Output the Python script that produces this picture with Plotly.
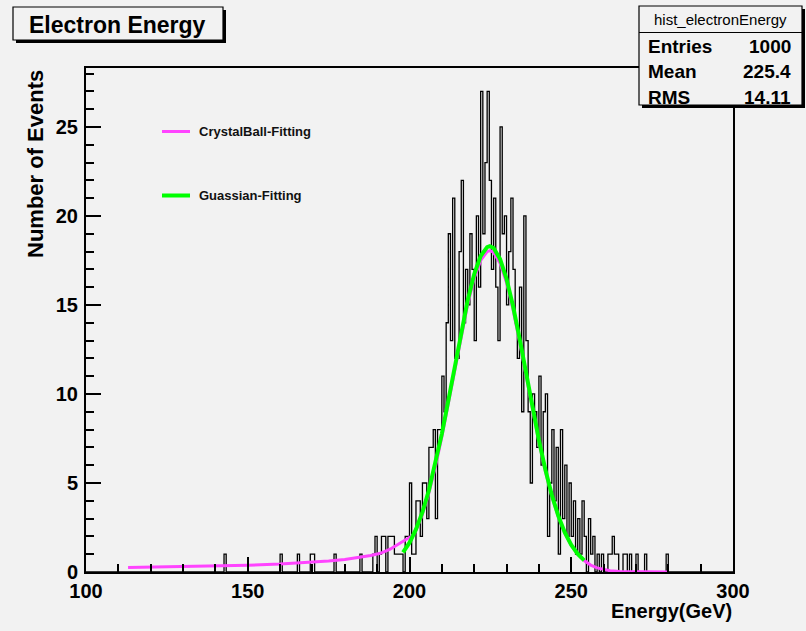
import plotly.graph_objects as go

# ---- histogram: 300 bins of 2/3 GeV between 100 and 300 GeV ----
n_bins = 300
e_min, e_max = 100.0, 300.0

# sparse entries in the low-energy tail (bin index, count)
tail_bins = [64, 90, 98, 104, 105, 115, 127, 133, 134]
tail_counts = [1, 1, 1, 1, 1, 1, 1, 1, 2]

# contiguous counts starting at bin 135 (190 GeV)
core_start = 135
core_counts = [
    0, 1, 2, 2, 0, 2, 2, 2, 1, 1, 1, 1, 0, 2, 2,          # 190-200
    5, 1, 1, 4, 4, 2, 5, 5, 3, 7, 7, 8, 3, 8, 8,          # 200-210
    11, 9, 14, 19, 13, 21, 12, 12,                        # 210-215
    18, 22, 14, 17, 15, 19, 17,                           # 215-220
    13, 20, 16, 27, 19, 23, 27, 22,                       # 220-225
    17, 21, 16, 13, 25, 19, 20,                           # 225-230
    15, 18, 21, 17, 14, 12, 16, 9,                        # 230-235
    20, 13, 9, 5, 10, 9, 7,                               # 235-240
    11, 6, 9, 10, 2, 5, 8, 4,                             # 240-245
    7, 1, 8, 3, 6, 2, 5,                                  # 245-250
    2, 4, 1, 3, 1, 4, 2, 0,                               # 250-255
    3, 1, 2, 0, 1, 0, 1,                                  # 255-260
    0, 0, 1, 1, 2, 1, 1, 0,                               # 260-265
    0, 1, 1, 0, 1, 0, 0,                                  # 265-270
    1, 0, 0, 0, 1, 0, 0, 0, 0, 0, 0, 0, 0, 0, 1,          # 270-280
]

# ---- fitted curves (sampled) ----
cb_energy = [113, 120, 130, 140, 150, 160, 165, 170, 175, 180, 185, 188, 191,
             194, 196, 198.5, 201, 202, 204, 206, 208, 210, 212, 214, 216,
             218, 220, 222, 224, 225, 226, 228, 230, 232, 234, 236, 238, 240,
             242, 244, 246, 248, 250, 252, 254, 256, 258, 260, 262, 265, 270,
             275, 280]
cb_value = [0.25, 0.27, 0.31, 0.34, 0.38, 0.45, 0.50, 0.56, 0.62, 0.70, 0.82,
            0.93, 1.05, 1.28, 1.50, 1.76, 2.05, 2.33, 3.25, 4.45, 5.90, 7.60,
            9.45, 11.40, 13.30, 15.05, 16.50, 17.50, 18.00, 18.05, 17.95,
            17.35, 16.25, 14.75, 12.95, 11.05, 9.10, 7.30, 5.65, 4.25, 3.10,
            2.18, 1.50, 1.00, 0.64, 0.39, 0.23, 0.13, 0.07, 0.03, 0.01, 0.0,
            0.0]

gaus_energy = [198, 200, 202, 204, 206, 208, 210, 212, 214, 216, 218, 220, 222,
               224, 224.8, 226, 228, 230, 232, 234, 236, 238, 240, 242, 244,
               246, 248, 250, 252, 254]
gaus_value = [1.10, 1.65, 2.39, 3.36, 4.59, 6.06, 7.76, 9.63, 11.59, 13.51,
              15.27, 16.72, 17.75, 18.25, 18.30, 18.20, 17.58, 16.46, 14.94,
              13.14, 11.20, 9.25, 7.41, 5.75, 4.32, 3.15, 2.22, 1.52, 1.01,
              0.65]

x_ticks = [100, 150, 200, 250, 300]
y_ticks = [0, 5, 10, 15, 20, 25]

stats_rows = [("Entries", "1000"), ("Mean", "225.4"), ("RMS", "14.11")]

# ---- assemble bin contents ----
counts = [0] * n_bins
for b, c in zip(tail_bins, tail_counts):
    counts[b] = c
for i, c in enumerate(core_counts):
    counts[core_start + i] = c
width = (e_max - e_min) / n_bins
edges = [e_min + i * width for i in range(n_bins + 1)]

# ---- page geometry (pixels) ----
W, H = 806, 631
L, R, T, B = 86, 733, 68, 572


def xp(px):
    return (px - L) / (R - L)


def yp(py):
    return (B - py) / (B - T)


FONT = "Liberation Sans"
BG = "#f2f2f2"

fig = go.Figure()
fig.add_trace(go.Scatter(
    x=edges, y=counts + [counts[-1]], mode="lines",
    line=dict(color="black", width=1.3, shape="hv"), hoverinfo="skip"))
fig.add_trace(go.Scatter(
    x=cb_energy, y=cb_value, mode="lines",
    line=dict(color="#ff44ff", width=3), hoverinfo="skip"))
fig.add_trace(go.Scatter(
    x=gaus_energy, y=gaus_value, mode="lines",
    line=dict(color="#00ff00", width=4), hoverinfo="skip"))

axis_common = dict(
    ticks="inside", ticklen=15, tickwidth=1.5, tickcolor="black",
    showline=True, linecolor="black", linewidth=2, mirror=True,
    showgrid=False, zeroline=False,
    tickfont=dict(family=FONT, size=20, color="black", weight="bold"),
)

fig.update_layout(
    width=W, height=H,
    margin=dict(l=L, r=W - R, t=T, b=H - B, pad=0),
    paper_bgcolor=BG, plot_bgcolor=BG,
    showlegend=False,
    xaxis=dict(range=[e_min, e_max], tickmode="array", tickvals=x_ticks,
               minor=dict(dtick=10, tick0=100, ticks="inside", ticklen=8,
                          tickwidth=1.5, tickcolor="black", showgrid=False),
               ticklabelstandoff=0, **axis_common),
    yaxis=dict(range=[0, 28.31], tickmode="array", tickvals=y_ticks,
               minor=dict(dtick=1, tick0=0, ticks="inside", ticklen=8,
                          tickwidth=1.5, tickcolor="black", showgrid=False),
               ticklabelstandoff=2, **axis_common),
)

shapes = []
annotations = []

# title box with shadow
shapes.append(dict(type="rect", xref="paper", yref="paper",
                   x0=xp(16), x1=xp(226), y0=yp(43), y1=yp(10),
                   fillcolor="black", line=dict(width=0)))
shapes.append(dict(type="rect", xref="paper", yref="paper",
                   x0=xp(13), x1=xp(223), y0=yp(40), y1=yp(7),
                   fillcolor=BG, line=dict(color="black", width=1.2)))
annotations.append(dict(xref="paper", yref="paper", x=xp(117), y=yp(24.5),
                        text="Electron Energy", showarrow=False,
                        xanchor="center", yanchor="middle",
                        font=dict(family=FONT, size=23, color="black",
                                  weight="bold")))

# statistics box with shadow
shapes.append(dict(type="rect", xref="paper", yref="paper",
                   x0=xp(642), x1=xp(805), y0=yp(108), y1=yp(9),
                   fillcolor="black", line=dict(width=0)))
shapes.append(dict(type="rect", xref="paper", yref="paper",
                   x0=xp(639), x1=xp(802), y0=yp(105), y1=yp(6),
                   fillcolor=BG, line=dict(color="black", width=1.2)))
shapes.append(dict(type="line", xref="paper", yref="paper",
                   x0=xp(639), x1=xp(802), y0=yp(32.5), y1=yp(32.5),
                   line=dict(color="black", width=1.2)))
annotations.append(dict(xref="paper", yref="paper", x=xp(720), y=yp(19.5),
                        text="hist_electronEnergy", showarrow=False,
                        xanchor="center", yanchor="middle",
                        font=dict(family=FONT, size=15, color="black")))
for i, (name, val) in enumerate(stats_rows):
    ypix = 46.5 + i * 25.5
    annotations.append(dict(xref="paper", yref="paper", x=xp(646), y=yp(ypix),
                            text=name, showarrow=False, xanchor="left",
                            yanchor="middle",
                            font=dict(family=FONT, size=19, color="black",
                                      weight="bold")))
    annotations.append(dict(xref="paper", yref="paper", x=xp(793), y=yp(ypix),
                            text=val, showarrow=False, xanchor="right",
                            yanchor="middle",
                            font=dict(family=FONT, size=19, color="black",
                                      weight="bold")))

# legend entries
legend_items = [("CrystalBall-Fitting", "#ff44ff", 3, 131.5),
                ("Guassian-Fitting", "#00ff00", 4, 195.5)]
for label, color, lw, ypix in legend_items:
    shapes.append(dict(type="line", xref="paper", yref="paper",
                       x0=xp(162), x1=xp(190), y0=yp(ypix), y1=yp(ypix),
                       line=dict(color=color, width=lw)))
    annotations.append(dict(xref="paper", yref="paper", x=xp(197), y=yp(ypix),
                            text=label, showarrow=False, xanchor="left",
                            yanchor="middle",
                            font=dict(family=FONT, size=13, color="#111111",
                                      weight="bold")))

# axis titles
annotations.append(dict(xref="paper", yref="paper", x=xp(35), y=yp(164),
                        text="Number of Events", showarrow=False,
                        textangle=-90, xanchor="center", yanchor="middle",
                        font=dict(family=FONT, size=22, color="black",
                                  weight="bold")))
annotations.append(dict(xref="paper", yref="paper", x=xp(734), y=yp(611),
                        text="Energy(GeV)", showarrow=False,
                        xanchor="right", yanchor="middle",
                        font=dict(family=FONT, size=20, color="black",
                                  weight="bold")))

fig.update_layout(shapes=shapes, annotations=annotations)
fig.write_html("out.html")
